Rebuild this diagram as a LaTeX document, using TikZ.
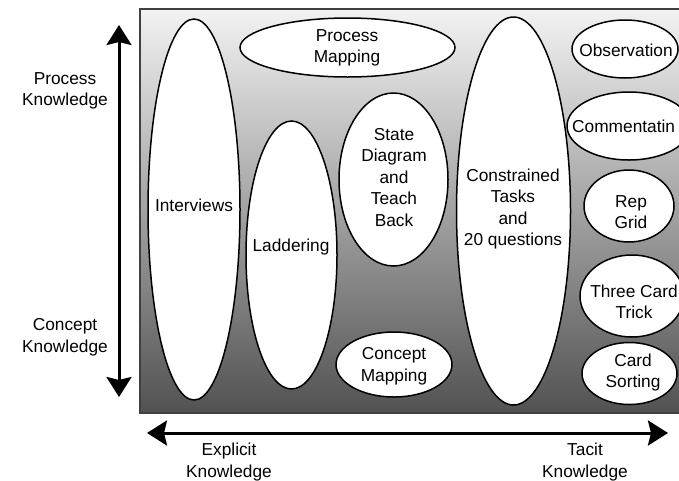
\documentclass[tikz,border=0pt]{standalone}
\usepackage{fontspec}
\setmainfont{Liberation Sans}
\usetikzlibrary{shapes.geometric,arrows.meta}
\tikzset{
  ell/.style={ellipse, draw=black, line width=1.5pt, fill=white, inner sep=0pt},
  txt/.style={align=center, font=\fontsize{17.3}{21.5}\selectfont, inner sep=0pt, text=black},
  axis/.style={line width=3pt, {Stealth[length=20pt,width=25pt,inset=3pt]}-{Stealth[length=20pt,width=25pt,inset=3pt]}},
  frame/.style={draw=black!75, line width=2pt, top color=black!5, bottom color=black!68}
}
\begin{document}
\begin{tikzpicture}[x=1pt,y=-1pt]
\useasboundingbox (0,0) rectangle (679,480);
\clip (0,0) rectangle (679,480);
\node[frame, rectangle, minimum width=562pt, minimum height=404pt, inner sep=0pt, anchor=north west] (frm) at (139,8) {};
% ellipses
\node[ell, minimum width=92pt, minimum height=381pt] (interviews) at (194,209.5) {};
\node[txt] (interviews-t) at (194,205) {Interviews};
\node[ell, minimum width=91pt, minimum height=268pt] (laddering) at (291.5,255) {};
\node[txt] (laddering-t) at (291,247) {Laddering};
\node[ell, minimum width=215pt, minimum height=59pt] (procmap) at (347.5,47.5) {};
\node[txt] (procmap-t) at (347,48) {Process\\Mapping};
\node[ell, minimum width=109pt, minimum height=173pt] (state) at (393.5,179.5) {};
\node[txt] (state-t) at (394,177.5) {State\\Diagram\\and\\Teach\\Back};
\node[ell, minimum width=114pt, minimum height=388pt] (constr) at (513.5,211) {};
\node[txt] (constr-t) at (513,209) {Constrained\\Tasks\\and\\20 questions};
\node[ell, minimum width=116pt, minimum height=65pt] (conmap) at (394,364.5) {};
\node[txt] (conmap-t) at (394,366) {Concept\\Mapping};
\node[ell, minimum width=106pt, minimum height=58pt] (obs) at (625,49) {};
\node[txt] (obs-t) at (626,50) {Observation};
\node[ell, minimum width=124pt, minimum height=68pt] (comm) at (629,126) {};
\node[txt, anchor=west] (comm-t) at (572,126) {Commentatin};
\node[ell, minimum width=90pt, minimum height=72pt] (rep) at (629,206) {};
\node[txt] (rep-t) at (631,212) {Rep\\Grid};
\node[ell, minimum width=104pt, minimum height=82pt] (three) at (632,296) {};
\node[txt] (three-t) at (634,302) {Three Card\\Trick};
\node[ell, minimum width=95pt, minimum height=62pt] (card) at (629.5,373.5) {};
\node[txt] (card-t) at (633,372.5) {Card\\Sorting};
% axes
\coordinate (vtop) at (119,25);
\coordinate (vbot) at (119,397);
\coordinate (hl) at (147,433);
\coordinate (hr) at (668,433);
\draw[axis] (vbot) -- (vtop);
\draw[axis] (hl) -- (hr);
\node[txt] (pk) at (65,91) {Process\\Knowledge};
\node[txt] (ck) at (65,337) {Concept\\Knowledge};
\node[txt] (ek) at (229,462) {Explicit\\Knowledge};
\node[txt] (tk) at (585,462) {Tacit\\Knowledge};
\end{tikzpicture}
\end{document}
